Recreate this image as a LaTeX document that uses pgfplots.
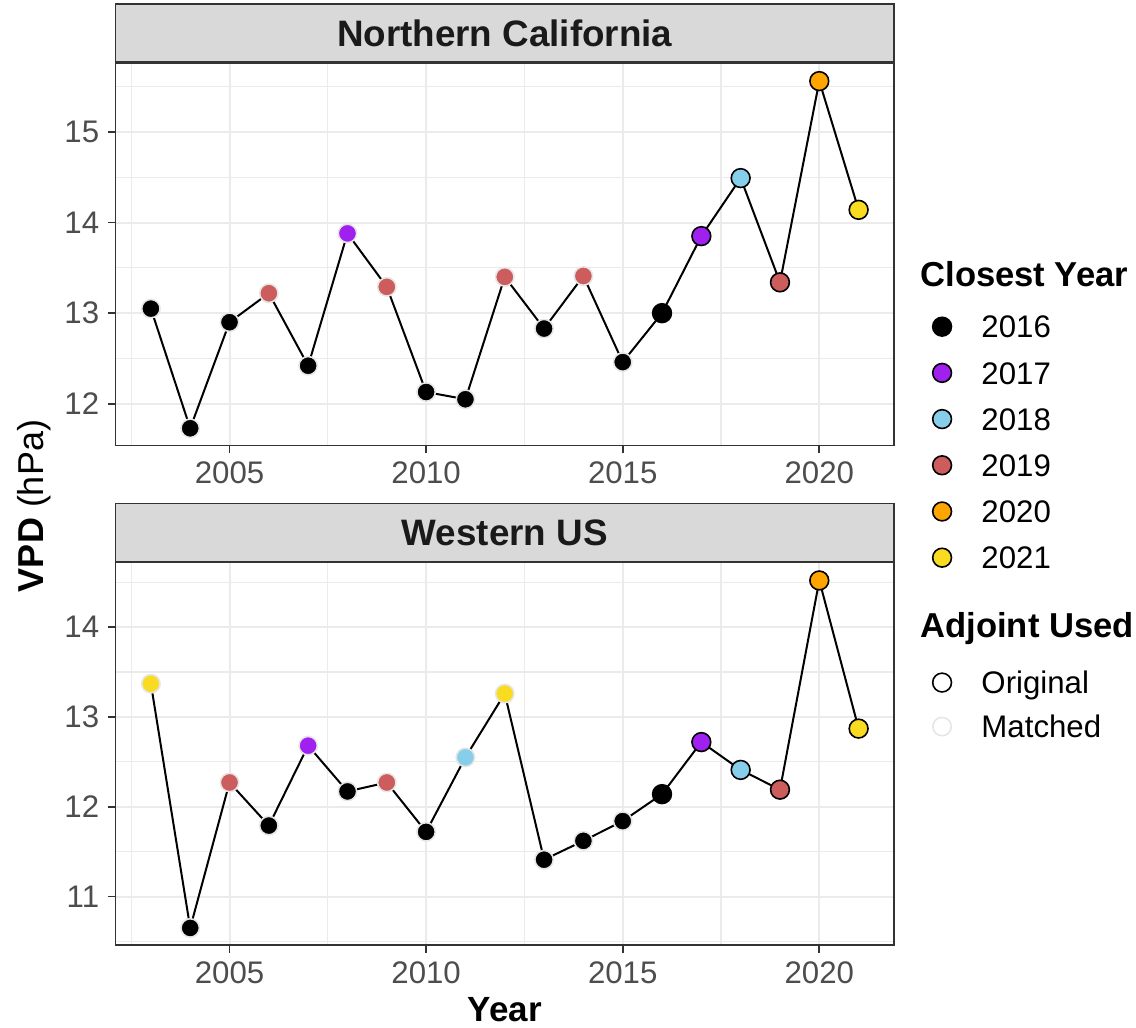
\documentclass[border=0pt]{standalone}
\usepackage{fontspec}
\setmainfont{Liberation Sans}
\usepackage{pgfplots}
\pgfplotsset{compat=1.18}
\definecolor{c16}{HTML}{000000}
\definecolor{c17}{HTML}{A020F0}
\definecolor{c18}{HTML}{87CEEB}
\definecolor{c19}{HTML}{CD5C5C}
\definecolor{c20}{HTML}{FFA500}
\definecolor{c21}{HTML}{F9DC22}
\definecolor{grey10}{HTML}{1A1A1A}
\definecolor{grey20}{HTML}{333333}
\definecolor{grey30}{HTML}{4D4D4D}
\definecolor{grey85}{HTML}{D9D9D9}
\definecolor{grey92}{HTML}{EBEBEB}
\definecolor{matchedge}{HTML}{E6E6E6}
\pgfplotsset{
  every axis title shift=0pt,
  panel/.style={
    scale only axis, width=389.25pt, height=191.25pt,
    xmin=2002.1, xmax=2021.9,
    xtick={2005,2010,2015,2020},
    minor xtick={2002.5,2007.5,2012.5,2017.5},
    grid=both,
    major grid style={grey92, line width=1pt},
    minor grid style={grey92, line width=0.55pt},
    axis line style={grey20, line width=0.8pt},
    tick style={grey20, line width=0.8pt},
    tick align=outside, major tick length=4pt, minor tick length=0pt,
    xtick pos=bottom, ytick pos=left,
    /pgf/number format/assume math mode=true,
    /pgf/number format/set thousands separator={},
    ticklabel style={font=\fontsize{15.6}{18}\selectfont, text=grey30, inner sep=0pt},
    xticklabel style={anchor=north},
    yticklabel style={anchor=east},
    xticklabel shift=4pt, yticklabel shift=4pt,
    title style={at={(0.5,1)}, anchor=south, yshift=0pt, fill=grey85, draw=grey20, line width=0.8pt,
      minimum width=389.25pt, minimum height=29pt, inner sep=0pt, text=grey10,
      font=\bfseries\fontsize{18.4}{21}\selectfont},
    legend cell align=left,
    legend style={draw=none, fill=none, inner sep=0pt, outer sep=0pt, anchor=north west,
      column sep=15pt, font=\fontsize{15.6}{18}\selectfont, text=black,
      nodes={inner sep=0pt, text height=11.2pt, text depth=0pt}},
    legend image code/.code={\draw[##1] plot coordinates {(0pt,0pt)};},
    clip=false,
  },
  orig/.style={only marks, mark=*, mark size=4.7pt, mark options={draw=black, line width=0.8pt, fill=#1}},
  matched/.style={only marks, mark=*, mark size=4.6pt, mark options={draw=matchedge, line width=0.8pt, fill=#1}},
  vline/.style={black, line width=1pt, mark=none},
}
\begin{document}
\begin{tikzpicture}
\path[use as bounding box] (0pt,0pt) rectangle (568pt,514pt);
% ---------------- Northern California ----------------
\begin{axis}[panel, at={(57.75pt,291.25pt)}, anchor=south west,
  ymin=11.54, ymax=15.76,
  ytick={12,13,14,15}, minor ytick={11.5,12.5,13.5,14.5,15.5},
  title={Northern California},
  legend style={at={(1.0497,0.3399)}, row sep=11.9pt}]
\addplot[vline, forget plot] coordinates {
(2003,13.05) (2004,11.73) (2005,12.90) (2006,13.22) (2007,12.42) (2008,13.88)
(2009,13.29) (2010,12.13) (2011,12.05) (2012,13.40) (2013,12.83) (2014,13.41)
(2015,12.46) (2016,13.00) (2017,13.85) (2018,14.49) (2019,13.34) (2020,15.56) (2021,14.14)};
\addplot[matched=c16, forget plot] coordinates {(2003,13.05) (2004,11.73) (2005,12.90) (2007,12.42) (2010,12.13) (2011,12.05) (2013,12.83) (2015,12.46)};
\addplot[matched=c19, forget plot] coordinates {(2006,13.22) (2009,13.29) (2012,13.40) (2014,13.41)};
\addplot[matched=c17, forget plot] coordinates {(2008,13.88)};
\addplot[orig=c16, forget plot] coordinates {(2016,13.00)};
\addplot[orig=c17, forget plot] coordinates {(2017,13.85)};
\addplot[orig=c18, forget plot] coordinates {(2018,14.49)};
\addplot[orig=c19, forget plot] coordinates {(2019,13.34)};
\addplot[orig=c20, forget plot] coordinates {(2020,15.56)};
\addplot[orig=c21, forget plot] coordinates {(2021,14.14)};
\addlegendimage{orig=c16}\addlegendentry{2016}
\addlegendimage{orig=c17}\addlegendentry{2017}
\addlegendimage{orig=c18}\addlegendentry{2018}
\addlegendimage{orig=c19}\addlegendentry{2019}
\addlegendimage{orig=c20}\addlegendentry{2020}
\addlegendimage{orig=c21}\addlegendentry{2021}
\end{axis}
% ---------------- Western US ----------------
\begin{axis}[panel, at={(57.75pt,41.5pt)}, anchor=south west,
  ymin=10.46, ymax=14.72,
  ytick={11,12,13,14}, minor ytick={10.5,11.5,12.5,13.5,14.5},
  title={Western US},
  legend style={at={(1.0497,0.7154)}, row sep=10.8pt}]
\addplot[vline, forget plot] coordinates {
(2003,13.37) (2004,10.65) (2005,12.27) (2006,11.79) (2007,12.68) (2008,12.17)
(2009,12.27) (2010,11.72) (2011,12.55) (2012,13.26) (2013,11.41) (2014,11.62)
(2015,11.84) (2016,12.14) (2017,12.72) (2018,12.41) (2019,12.19) (2020,14.52) (2021,12.87)};
\addplot[matched=c21, forget plot] coordinates {(2003,13.37) (2012,13.26)};
\addplot[matched=c16, forget plot] coordinates {(2004,10.65) (2006,11.79) (2008,12.17) (2010,11.72) (2013,11.41) (2014,11.62) (2015,11.84)};
\addplot[matched=c19, forget plot] coordinates {(2005,12.27) (2009,12.27)};
\addplot[matched=c17, forget plot] coordinates {(2007,12.68)};
\addplot[matched=c18, forget plot] coordinates {(2011,12.55)};
\addplot[orig=c16, forget plot] coordinates {(2016,12.14)};
\addplot[orig=c17, forget plot] coordinates {(2017,12.72)};
\addplot[orig=c18, forget plot] coordinates {(2018,12.41)};
\addplot[orig=c19, forget plot] coordinates {(2019,12.19)};
\addplot[orig=c20, forget plot] coordinates {(2020,14.52)};
\addplot[orig=c21, forget plot] coordinates {(2021,12.87)};
\addlegendimage{orig=white}\addlegendentry{Original}
\addlegendimage{matched=white}\addlegendentry{Matched}
\end{axis}
% ---------------- labels ----------------
\node[anchor=base, inner sep=0pt, font=\bfseries\fontsize{17.5}{21}\selectfont] at (252.4pt,3pt) {Year};
\node[anchor=base, inner sep=0pt, rotate=90, font=\fontsize{18}{21}\selectfont] at (21.5pt,261pt) {\textbf{VPD} (hPa)};
\node[anchor=base west, inner sep=0pt, font=\bfseries\fontsize{17.3}{21}\selectfont] at (460pt,370.65pt) {Closest Year};
\node[anchor=base west, inner sep=0pt, font=\bfseries\fontsize{17.3}{21}\selectfont] at (460pt,195pt) {Adjoint Used};
\end{tikzpicture}
\end{document}
